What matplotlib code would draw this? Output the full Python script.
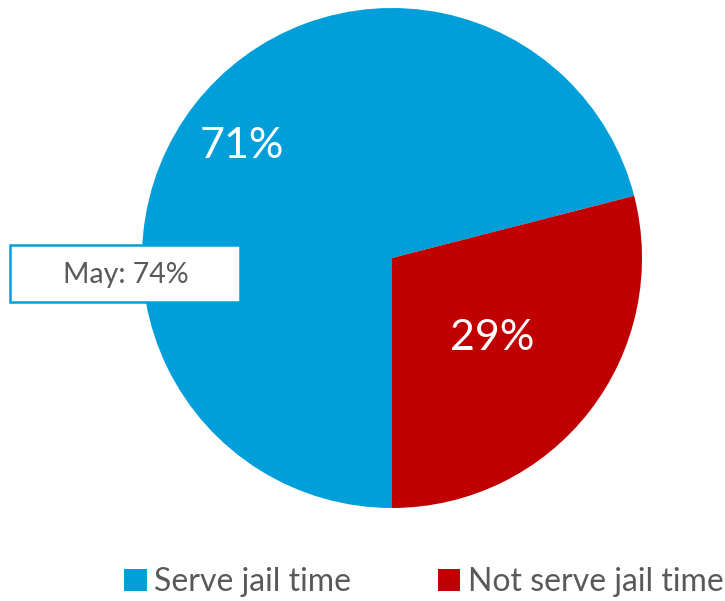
import matplotlib.pyplot as plt
from matplotlib.patches import Patch, Rectangle

# Data
labels = ["Serve jail time", "Not serve jail time"]
shares = [71, 29]
colors = ["#009FDA", "#C00000"]
note = "May: 74%"

plt.rcParams['font.family'] = ['Lato', 'DejaVu Sans']

W, H = 725, 601
fig = plt.figure(figsize=(W / 100, H / 100), dpi=100)
ax = fig.add_axes([142 / W, 93 / H, 500 / W, 500 / H])

wedges, texts, autotexts = ax.pie(
    shares, colors=colors, startangle=270, counterclock=False,
    autopct='%d%%', pctdistance=0.7, radius=1,
    textprops=dict(color='white', fontsize=31),
    wedgeprops=dict(linewidth=0))
ax.set_xlim(-1, 1)
ax.set_ylim(-1, 1)
ax.set_aspect('equal')

# nudge the percent labels to match the original placement
autotexts[0].set_position((-0.60, 0.45))
autotexts[1].set_position((0.40, -0.32))

# annotation box on the left
fig.patches.append(Rectangle((10 / W, 1 - 302 / H), 230 / W, 57 / H,
                             transform=fig.transFigure, facecolor='white',
                             edgecolor='#009FDA', linewidth=1.8, zorder=5))
fig.text(126 / W, 1 - 275 / H, note, ha='center', va='center',
         fontsize=20.5, color='#595959', zorder=6)

handles = [Patch(facecolor=c, edgecolor='none') for c in colors]
fig.legend(handles, labels, loc='center', bbox_to_anchor=(424 / W, 1 - 582 / H),
           ncol=2, frameon=False, fontsize=23, labelcolor='#595959',
           handlelength=0.7, handleheight=0.7, handletextpad=0.25,
           columnspacing=2.7)

fig.savefig('out.png', dpi=100)
